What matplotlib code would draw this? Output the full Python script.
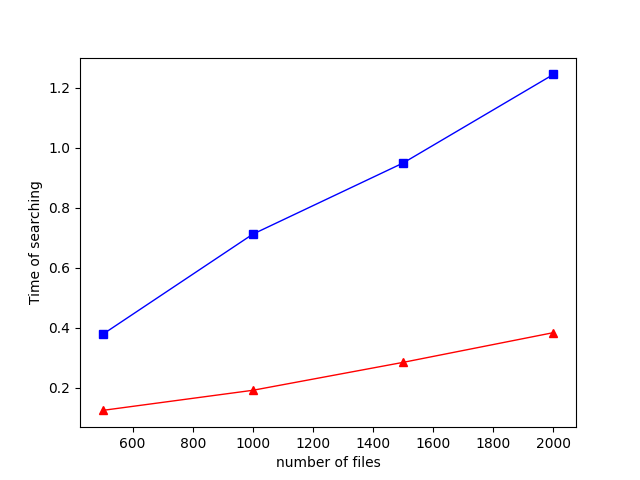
import matplotlib
matplotlib.use('Agg')
import matplotlib.pyplot as plt

files = [500, 1000, 1500, 2000]
time_blue = [0.378, 0.712, 0.949, 1.244]
time_red = [0.125, 0.192, 0.285, 0.384]

fig, ax = plt.subplots(figsize=(6.4, 4.8), dpi=100)

ax.plot(files, time_blue, 'bs-', linewidth=1)
ax.plot(files, time_red, 'r^-', linewidth=1)

ax.set_xlabel('number of files')
ax.set_ylabel('Time of searching')

fig.savefig('out.png')
